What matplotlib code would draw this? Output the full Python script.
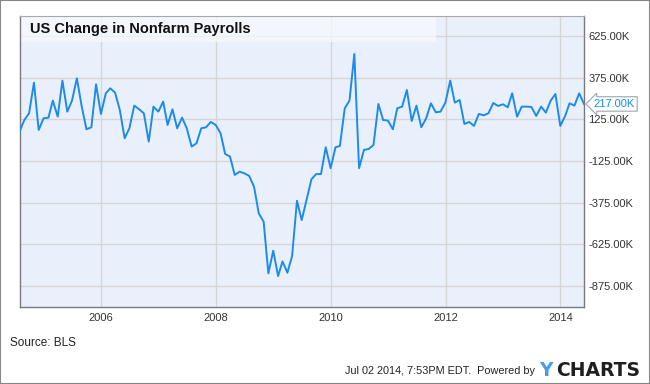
import numpy as np
import pandas as pd
import matplotlib
matplotlib.use("Agg")
import matplotlib.pyplot as plt
import matplotlib.dates as mdates
from matplotlib.patches import Rectangle

plt.rcParams['font.family'] = ['Liberation Sans', 'DejaVu Sans']

# monthly change in nonfarm payrolls, thousands, Jul 2004 - May 2014
payrolls = [51, 121, 161, 345, 61, 131, 135, 237, 141, 357,
            171, 237, 371, 201, 65, 77, 335, 157, 281, 311,
            285, 181, 11, 71, 207, 185, 161, -9, 201, 171,
            231, 91, 185, 71, 135, 71, -39, -19, 71, 77,
            109, 91, 41, -83, -99, -209, -190, -199, -215, -280,
            -440, -490, -800, -664, -816, -728, -796, -696, -364, -480,
            -359, -235, -204, -204, -43, -169, -43, -35, 191, 237,
            517, -169, -59, -53, -29, 217, 121, 117, 65, 191,
            201, 301, 115, 207, 77, 131, 221, 167, 171, 225,
            357, 225, 241, 97, 109, 85, 157, 149, 161, 223,
            205, 215, 197, 281, 141, 201, 201, 199, 145, 201,
            165, 237, 277, 85, 145, 221, 207, 281, 217]
dates = pd.date_range('2004-07-31', periods=len(payrolls), freq='ME')

ytick_vals = [625, 375, 125, -125, -375, -625, -875]
ytick_labels = ['625.00K', '375.00K', '125.00K', '-125.00K', '-375.00K', '-625.00K', '-875.00K']
xtick_years = [2006, 2008, 2010, 2012, 2014]

line_col = '#1C8BEA'
grid_col = '#D6D6D6'

fig = plt.figure(figsize=(6.5, 3.84), dpi=100)
ax = fig.add_axes([0.030, 0.2005, 0.8685, 0.7591])
ax.set_facecolor('#E9F0FB')

ax.plot(dates, payrolls, color=line_col, lw=1.4, zorder=3)

ax.set_xlim(dates[0], dates[-1])
ax.set_ylim(-1002, 748)

ax.set_yticks(ytick_vals)
ax.set_yticklabels(ytick_labels)
ax.yaxis.tick_right()
ax.set_xticks([pd.Timestamp(f'{y}-01-01') for y in xtick_years])
ax.xaxis.set_major_formatter(mdates.DateFormatter('%Y'))
ax.tick_params(axis='both', length=0, labelsize=8, colors='#333333')
ax.tick_params(axis='y', pad=3)
ax.tick_params(axis='x', pad=4)
ax.grid(True, color=grid_col, lw=1)
ax.set_axisbelow(True)

for side in ['left', 'bottom', 'right']:
    ax.spines[side].set_color('#7A7A7A')
    ax.spines[side].set_linewidth(1)
ax.spines['top'].set_color('#A8A8A8')

# title box (semi transparent, grid shows through)
ax.add_patch(Rectangle((0, 0.909), 0.738, 0.091, transform=ax.transAxes,
                       facecolor='#F8FAFE', edgecolor='none', alpha=0.7, zorder=2))
ax.text(0.0186, 0.954, 'US Change in Nonfarm Payrolls', transform=ax.transAxes,
        fontsize=10.5, fontweight='bold', color='#111111', va='center', ha='left', zorder=4)

# last value label
ax.annotate(f'{payrolls[-1]:.2f}K', xy=(dates[-1], payrolls[-1]), xytext=(7, 0),
            textcoords='offset points', xycoords='data', va='center', ha='left',
            fontsize=8, color='#1C8BEA', annotation_clip=False, zorder=5,
            bbox=dict(boxstyle='larrow,pad=0.2', facecolor='white', edgecolor='#9AA6B4', lw=0.8))

fig.text(10 / 650, 1 - 342.5 / 384, 'Source: BLS', fontsize=8.5, color='#222222', va='center')
fig.text(535 / 650, 1 - 371 / 384, 'Jul 02 2014, 7:53PM EDT.  Powered by', fontsize=7.8,
         color='#222222', va='center', ha='right')
fig.text(539 / 650, 1 - 370 / 384, 'Y', fontsize=13.5, fontweight='bold', color='#4C9BEA',
         va='center', ha='left', family='DejaVu Sans')
fig.text(556 / 650, 1 - 370 / 384, 'CHARTS', fontsize=13.5, fontweight='bold', color='#1E1E1E',
         va='center', ha='left', family='DejaVu Sans')

fig.patches.append(Rectangle((0, 0), 1, 1, transform=fig.transFigure, fill=False,
                             edgecolor='#888888', lw=1.5))

fig.savefig('out.png', dpi=100)
